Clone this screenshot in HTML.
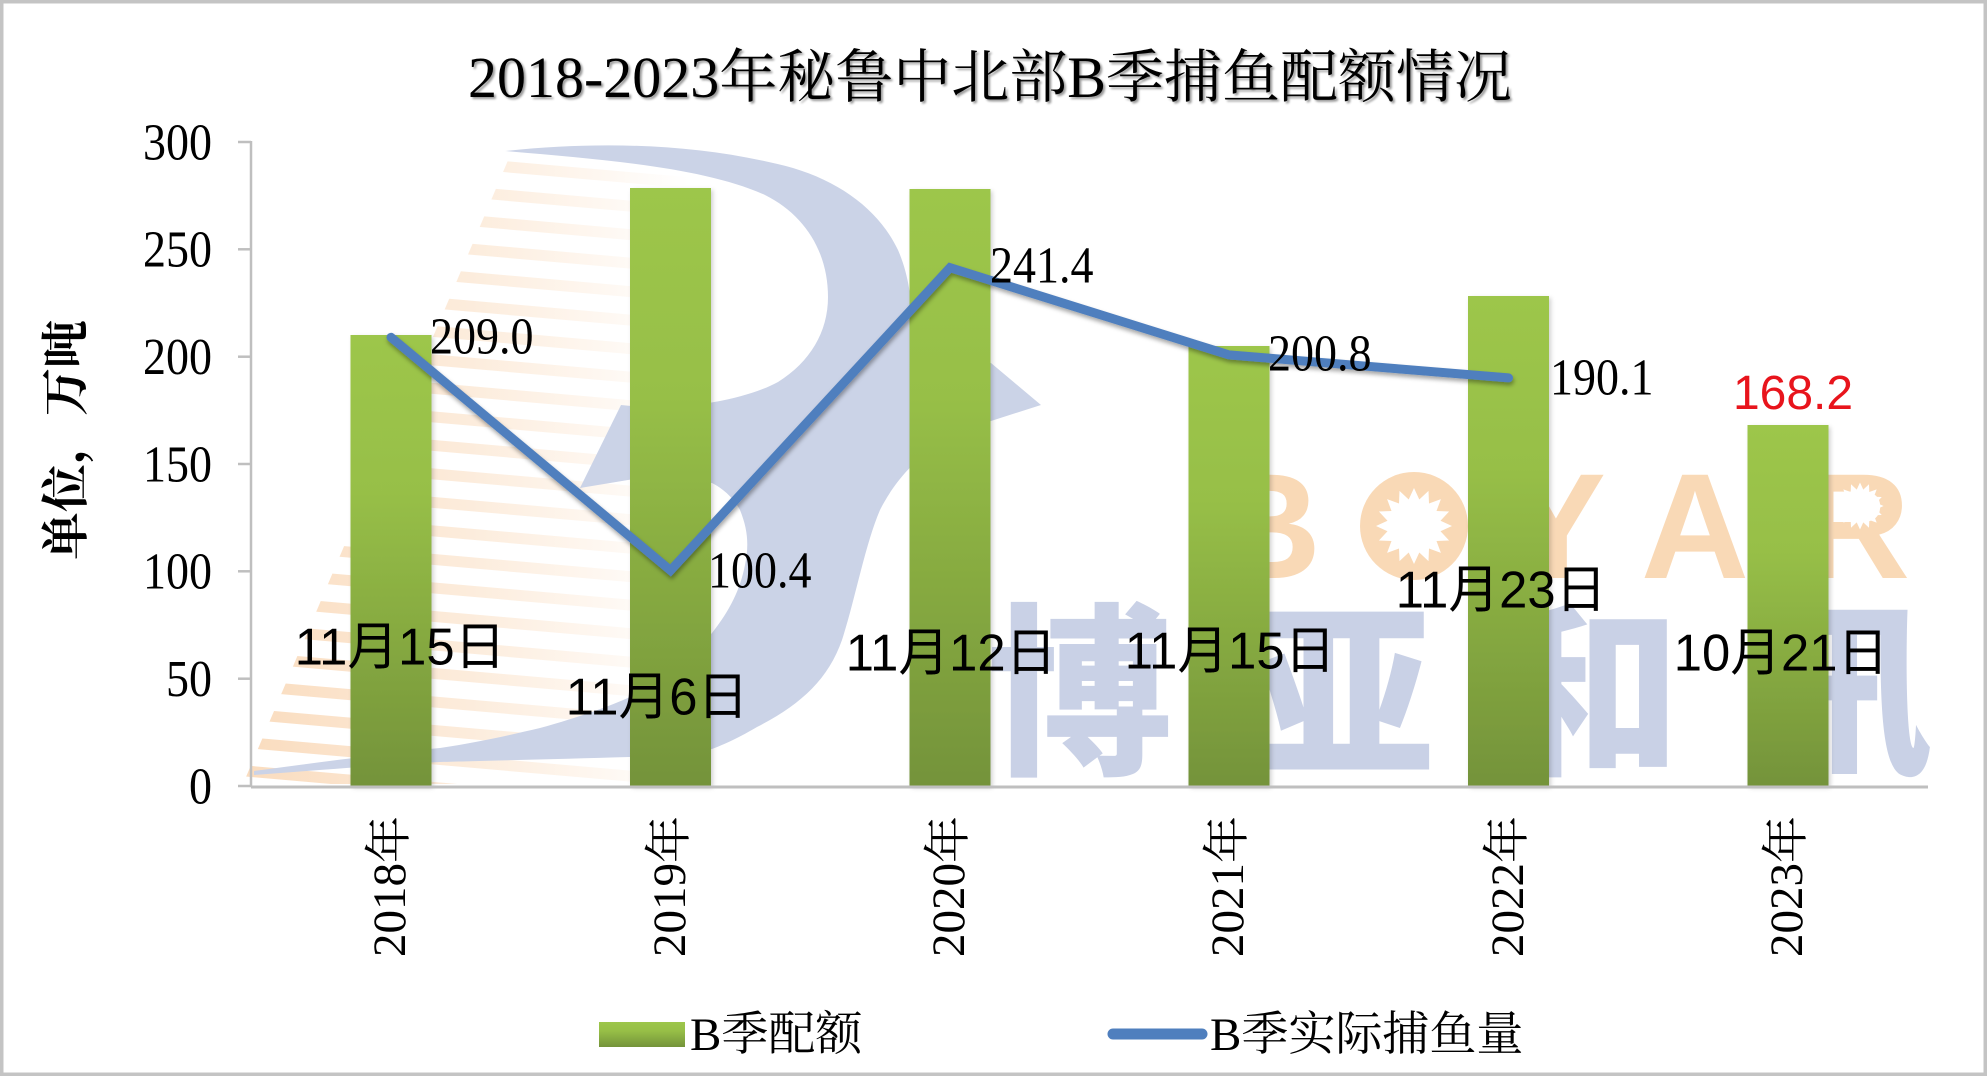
<!DOCTYPE html>
<html><head><meta charset="utf-8"><style>
html,body{margin:0;padding:0;background:#fff;}
svg{display:block;}
</style></head><body>
<svg width="1987" height="1076" viewBox="0 0 1987 1076" xmlns="http://www.w3.org/2000/svg">
<defs>
  <linearGradient id="bar" x1="0" y1="0" x2="0" y2="1">
    <stop offset="0" stop-color="#9DC64B"/>
    <stop offset="0.35" stop-color="#97BF47"/>
    <stop offset="1" stop-color="#74933A"/>
  </linearGradient>
  <linearGradient id="sg" gradientUnits="userSpaceOnUse" x1="250" y1="0" x2="690" y2="0">
    <stop offset="0" stop-color="#F6C08A" stop-opacity="0.55"/>
    <stop offset="0.5" stop-color="#F6C08A" stop-opacity="0.3"/>
    <stop offset="1" stop-color="#F6C08A" stop-opacity="0"/>
  </linearGradient>
  <clipPath id="sc"><polygon points="509,158 760,158 760,784 243,784"/></clipPath>
  <filter id="lsh" x="-10%" y="-10%" width="120%" height="130%">
    <feDropShadow dx="1" dy="3" stdDeviation="2" flood-color="#000" flood-opacity="0.35"/>
  </filter>
  <filter id="bsh" x="-20%" y="-5%" width="140%" height="110%">
    <feDropShadow dx="2" dy="2" stdDeviation="2" flood-color="#000" flood-opacity="0.18"/>
  </filter>
  <filter id="tsh" x="-5%" y="-20%" width="110%" height="140%">
    <feDropShadow dx="2" dy="2" stdDeviation="1" flood-color="#000" flood-opacity="0.4"/>
  </filter>
  <polygon id="sun" fill="#fff" points="1452,526 1440.5,531.3 1449.1,540.5 1436.5,541 1440.9,552.9 1429,548.5 1428.5,561.1 1419.3,552.5 1414,564 1408.7,552.5 1399.5,561.1 1399,548.5 1387.1,552.9 1391.5,541 1378.9,540.5 1387.5,531.3 1376,526 1387.5,520.7 1378.9,511.5 1391.5,511 1387.1,499.1 1399,503.5 1399.5,490.9 1408.7,499.5 1414,488 1419.3,499.5 1428.5,490.9 1429,503.5 1440.9,499.1 1436.5,511 1449.1,511.5 1440.5,520.7"/>
</defs>

<rect x="0" y="0" width="1987" height="1076" fill="#fff"/>

<!-- watermark: stripes -->
<g clip-path="url(#sc)" stroke="url(#sg)" stroke-width="11">
  <line x1="240" y1="143.5" x2="720" y2="185.5"/>
  <line x1="240" y1="172" x2="720" y2="214"/>
  <line x1="240" y1="200.5" x2="720" y2="242.5"/>
  <line x1="240" y1="229" x2="720" y2="271"/>
  <line x1="240" y1="257.5" x2="720" y2="299.5"/>
  <line x1="240" y1="286" x2="720" y2="328"/>
  <line x1="240" y1="314.5" x2="720" y2="356.5"/>
  <line x1="240" y1="343" x2="720" y2="385"/>
  <line x1="240" y1="371.5" x2="720" y2="413.5"/>
  <line x1="240" y1="400" x2="720" y2="442"/>
  <line x1="240" y1="428.5" x2="720" y2="470.5"/>
  <line x1="240" y1="457" x2="720" y2="499"/>
  <line x1="240" y1="485.5" x2="720" y2="527.5"/>
  <line x1="240" y1="514" x2="720" y2="556"/>
  <line x1="240" y1="542.5" x2="720" y2="584.5"/>
  <line x1="240" y1="571" x2="720" y2="613"/>
  <line x1="240" y1="599.5" x2="720" y2="641.5"/>
  <line x1="240" y1="628" x2="720" y2="670"/>
  <line x1="240" y1="656.5" x2="720" y2="698.5"/>
  <line x1="240" y1="685" x2="720" y2="727"/>
  <line x1="240" y1="713.5" x2="720" y2="755.5"/>
  <line x1="240" y1="742" x2="720" y2="784"/>
  <line x1="240" y1="770.5" x2="720" y2="812.5"/>
</g>

<!-- watermark: blue B -->
<path fill="#CBD3E7" d="M 505,151 C 600,141 700,143 793,168 C 843,183 880,212 898,250 C 912,282 914,320 910,350 L 991,363 L 1041,405 L 991,421 C 940,432 900,470 880,510 C 865,545 855,600 842,640 C 828,680 800,705 757,727 C 735,740 720,746 712,749 C 680,755 640,757 630,757 C 560,759 480,761 440,762 C 380,765 320,770 254,775 L 254,771 C 320,762 390,753 440,748 C 480,742 510,735 540,728 C 580,717 610,706 630,697 C 670,675 695,650 712,633 C 730,610 740,590 745,565 C 749,545 748,530 740,510 C 733,497 722,488 712,483 L 634,479 L 580,488 L 621,405 C 680,412 745,400 778,382 C 810,362 828,332 828,297 C 828,252 805,215 765,195 C 705,168 610,160 505,151 Z"/>

<!-- watermark: BOYAR -->
<g fill="#F9D9B6" font-family="Liberation Sans, sans-serif" font-weight="bold" font-size="150" text-anchor="middle">
  <text x="1267" y="578">B</text>
  <text x="1556" y="578">Y</text>
  <text x="1695" y="578">A</text>
  <text x="1856" y="578">R</text>
</g>
<circle cx="1414" cy="526" r="54" fill="#F9D9B6"/>
<use href="#sun"/>
<use href="#sun" transform="translate(1860,506) scale(0.62) translate(-1414,-526)"/>

<!-- watermark: 博亚和讯 -->
<g fill="#C9D1E6" font-family="Noto Sans CJK SC, sans-serif" font-weight="900" font-size="185" text-anchor="middle">
  <text x="1080" y="760">博</text>
  <text x="1342" y="760">亚</text>
  <text x="1588" y="760">和</text>
  <text x="1840" y="760">讯</text>
</g>

<!-- border -->
<rect x="1.75" y="1.75" width="1983.5" height="1072.5" fill="none" stroke="#C4C4C4" stroke-width="3.5"/>

<!-- axes -->
<g stroke="#BFBFBF" stroke-width="2.5">
  <line x1="251" y1="141" x2="251" y2="787"/>
  <line x1="238" y1="142" x2="251" y2="142"/>
  <line x1="238" y1="249.3" x2="251" y2="249.3"/>
  <line x1="238" y1="356.7" x2="251" y2="356.7"/>
  <line x1="238" y1="464" x2="251" y2="464"/>
  <line x1="238" y1="571.3" x2="251" y2="571.3"/>
  <line x1="238" y1="678.7" x2="251" y2="678.7"/>
  <line x1="238" y1="786" x2="251" y2="786"/>
</g>

<!-- bars -->
<g fill="url(#bar)" filter="url(#bsh)">
  <rect x="350.5" y="335" width="81" height="451"/>
  <rect x="630" y="188" width="81" height="598"/>
  <rect x="909.5" y="189" width="81" height="597"/>
  <rect x="1188.5" y="346" width="81" height="440"/>
  <rect x="1468" y="296" width="81" height="490"/>
  <rect x="1747.5" y="425" width="81" height="361"/>
</g>
<line x1="251" y1="787" x2="1928" y2="787" stroke="#BFBFBF" stroke-width="3"/>

<!-- line series -->
<polyline points="391,337.3 670.5,570.4 950,267.7 1229,354.9 1508.5,377.9" fill="none" stroke="#4F7FBE" stroke-width="9" stroke-linejoin="miter" stroke-linecap="round" filter="url(#lsh)"/>

<!-- title -->
<text x="990" y="97" text-anchor="middle" font-family="Liberation Serif, Noto Serif CJK SC, serif" font-size="58" fill="#000" filter="url(#tsh)">2018-2023年秘鲁中北部B季捕鱼配额情况</text>

<!-- y tick labels -->
<g font-family="Liberation Serif, serif" font-size="46" text-anchor="end" fill="#000">
  <text transform="translate(212,159.4) scale(1,1.12)">300</text>
  <text transform="translate(212,266.7) scale(1,1.12)">250</text>
  <text transform="translate(212,374.1) scale(1,1.12)">200</text>
  <text transform="translate(212,481.4) scale(1,1.12)">150</text>
  <text transform="translate(212,588.7) scale(1,1.12)">100</text>
  <text transform="translate(212,696.1) scale(1,1.12)">50</text>
  <text transform="translate(212,803.4) scale(1,1.12)">0</text>
</g>

<!-- y axis title -->
<text transform="translate(82,440) rotate(-90)" text-anchor="middle" font-family="Liberation Serif, Noto Serif CJK SC, serif" font-weight="bold" font-size="48" fill="#000">单位，万吨</text>

<!-- x labels -->
<g font-family="Liberation Serif, Noto Serif CJK SC, serif" font-size="47" fill="#000">
  <text transform="translate(405,957) rotate(-90)">2018年</text>
  <text transform="translate(685,957) rotate(-90)">2019年</text>
  <text transform="translate(964,957) rotate(-90)">2020年</text>
  <text transform="translate(1243,957) rotate(-90)">2021年</text>
  <text transform="translate(1523,957) rotate(-90)">2022年</text>
  <text transform="translate(1802,957) rotate(-90)">2023年</text>
</g>

<!-- data labels -->
<g font-family="Liberation Serif, serif" font-size="46" fill="#000">
  <text transform="translate(430,353.4) scale(1,1.12)">209.0</text>
  <text transform="translate(708,587.4) scale(1,1.12)">100.4</text>
  <text transform="translate(990,282.4) scale(1,1.12)">241.4</text>
  <text transform="translate(1268,370.4) scale(1,1.12)">200.8</text>
  <text transform="translate(1550,394.4) scale(1,1.12)">190.1</text>
</g>
<text x="1793" y="409" text-anchor="middle" font-family="Liberation Sans, sans-serif" font-size="48" fill="#E8141C">168.2</text>

<!-- date labels -->
<g font-family="Liberation Sans, Noto Sans CJK SC, sans-serif" font-size="47" text-anchor="middle" fill="#000">
  <text transform="translate(400,664.5) scale(1.08,1.1)">11月15日</text>
  <text transform="translate(657,714.5) scale(1.08,1.1)">11月6日</text>
  <text transform="translate(951,670.5) scale(1.08,1.1)">11月12日</text>
  <text transform="translate(1230,668.5) scale(1.08,1.1)">11月15日</text>
  <text transform="translate(1501,607.5) scale(1.08,1.1)">11月23日</text>
  <text transform="translate(1781,670.5) scale(1.08,1.1)">10月21日</text>
</g>

<!-- legend -->
<rect x="599" y="1022" width="86" height="25" fill="url(#bar)"/>
<text x="690" y="1050" font-family="Liberation Serif, Noto Serif CJK SC, serif" font-size="47" fill="#000">B季配额</text>
<line x1="1113" y1="1034" x2="1202" y2="1034" stroke="#4F7FBE" stroke-width="11" stroke-linecap="round"/>
<text x="1210" y="1050" font-family="Liberation Serif, Noto Serif CJK SC, serif" font-size="47" fill="#000">B季实际捕鱼量</text>
</svg>
</body></html>
